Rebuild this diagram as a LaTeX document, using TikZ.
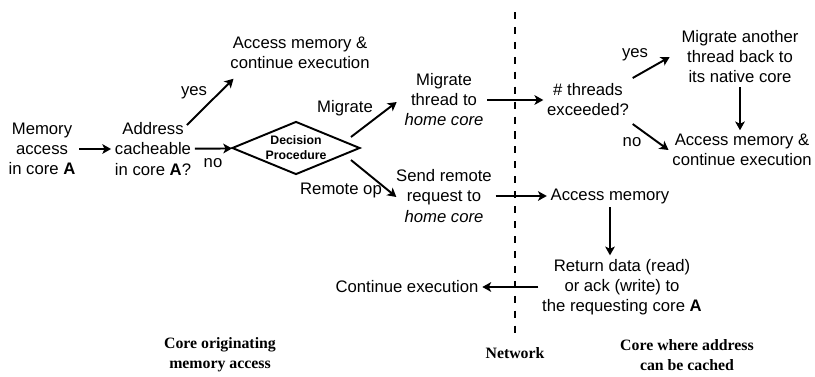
\documentclass[tikz,border=0pt]{standalone}
\usepackage{fontspec}
\setmainfont{Liberation Sans}
\newfontfamily\capfont{Liberation Serif}
\usepackage{tikz}
\usetikzlibrary{shapes.geometric}
\usetikzlibrary{arrows.meta}

\begin{document}
\begin{tikzpicture}[x=0.02cm, y=-0.02cm,
      every node/.style={align=center, inner sep=2pt, font=\fontsize{9.5}{11.4}\selectfont},
      arr/.style={line width=1.1pt, -{Stealth[length=5pt, width=5.5pt, inset=1.3pt]}},
      decide/.style={shape=diamond, draw, line width=1.1pt, inner sep=0pt, aspect=2.4,
        minimum width=2.56cm, minimum height=1.06cm, font=\fontsize{7}{8.5}\selectfont\bfseries},
      caption/.style={font=\fontsize{9}{11.4}\selectfont\capfont\bfseries},
      netline/.style={line width=1.1pt, dash pattern=on 4pt off 4.5pt}]
  \useasboundingbox (0,0) rectangle (815,376);

  % core originating memory access
  \node (memacc) at (42,149) {Memory\\access\\in core \textbf{A}};
  \node (cacheable) at (153,149) {Address\\cacheable\\in core \textbf{A}?};
  \node (localacc) at (300,53) {Access memory \&\\continue execution};
  \node [decide] (proc) at (296,148) {Decision\\Procedure};
  \node (migthread) at (444,100) {Migrate\\thread to\\\textit{home core}};
  \node (sendreq) at (444,196) {Send remote\\request to\\\textit{home core}};
  \node (contexec) at (407,287) {Continue execution};

  % core where address can be cached
  \node (threadsq) at (588,100) {\# threads\\exceeded?};
  \node (migback) at (740,57) {Migrate another\\thread back to\\its native core};
  \node (accmem) at (742,150) {Access memory \&\\continue execution};
  \node (accessrem) at (610,196) {Access memory};
  \node (retdata) at (622,287) {Return data (read)\\or ack (write) to\\the requesting core \textbf{A}};

  % edge labels
  \node (yesloc) at (194,93) {yes};
  \node (noloc) at (213,163) {no};
  \node (migr) at (345,108) {Migrate};
  \node (remop) at (341,190) {Remote op};
  \node (yesrem) at (635,55) {yes};
  \node (norem) at (632,142) {no};

  % network
  \coordinate (nettop) at (515,12);
  \coordinate (netbot) at (515,335);
  \draw[netline] (nettop) -- (netbot);

  \draw[arr] (memacc) -- (cacheable);
  \draw[arr] ([shift={(-8,6)}]cacheable.north east) -- ([shift={(7,6)}]localacc.south west);
  \draw[arr] (cacheable) -- (proc);
  \draw[arr] ([shift={(-10,-11)}]proc.east) -- ([shift={(-4,2)}]migthread.west);
  \draw[arr] ([shift={(-10,12)}]proc.east) -- ([shift={(4,1)}]sendreq.west);
  \draw[arr] (migthread) -- (threadsq);
  \draw[arr] ([shift={(0,-2)}]threadsq.north east) -- ([shift={(-8,0)}]migback.west);
  \draw[arr] ([shift={(0,4)}]threadsq.south east) -- (accmem.west);
  \draw[arr] (migback.south) -- (migback.south |- accmem.north);
  \draw[arr] (sendreq) -- (accessrem);
  \draw[arr] (accessrem.south) -- (accessrem.south |- retdata.north);
  \draw[arr] (retdata) -- (contexec);

  \node[caption] (coreorig) at (220,355) {Core originating\\memory access};
  \node[caption] (network) at (515,353) {Network};
  \node[caption] (corecache) at (687,355) {Core where address\\can be cached};
\end{tikzpicture}
\end{document}
